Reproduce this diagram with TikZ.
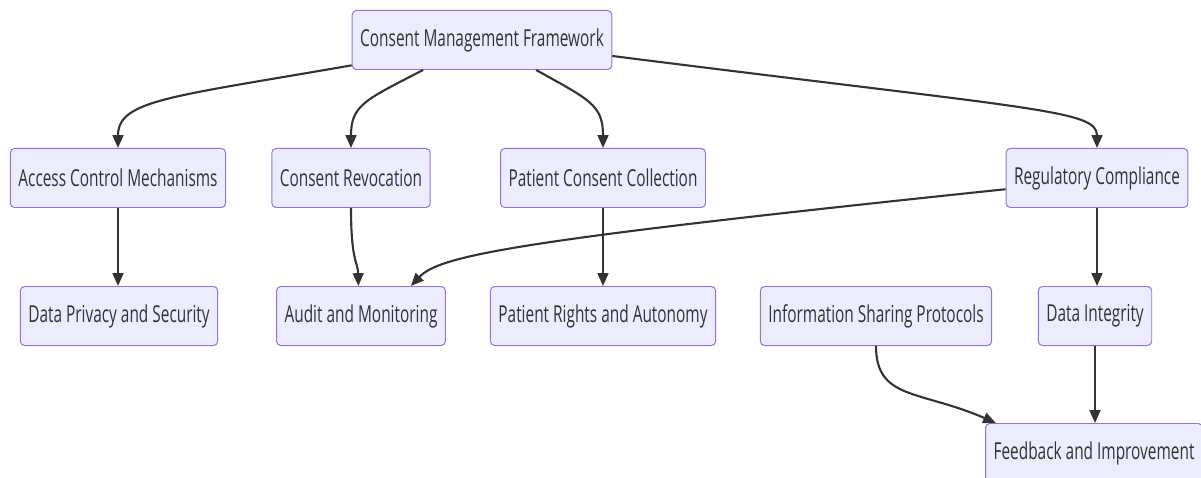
\documentclass[tikz,border=0pt]{standalone}
\usepackage{fontspec}
\setmainfont{Open Sans}[FakeStretch=0.66]
\usepackage{xcolor}
\usepackage{tikz}
\usetikzlibrary{arrows.meta, calc, positioning}

\definecolor{boxfill}{HTML}{ECECFF}
\definecolor{boxline}{HTML}{9370DB}
\definecolor{edgecol}{HTML}{333333}

\begin{document}
\begin{tikzpicture}[x=0.025cm, y=-0.025cm,
    >={Triangle[length=0.32cm, width=0.27cm]},
    box/.style={draw=boxline, fill=boxfill, line width=0.7pt, rounded corners=3pt,
        minimum height=1.475cm, inner xsep=0.2cm, text=edgecol,
        font=\fontsize{16.6pt}{18pt}\selectfont},
    edge/.style={->, draw=edgecol, line width=1.5pt}]
    \useasboundingbox (0,0) rectangle (1201,478);

    % Khung chính ở trên cùng
    \node[box] (cmf) at (482,40) {Consent Management Framework};

    % Hàng thứ hai
    \node[box] (acm) at (118,178) {Access Control Mechanisms};
    \node[box] (rev) at (351,178) {Consent Revocation};
    \node[box] (pcc) at (603,178) {Patient Consent Collection};
    \node[box] (reg) at (1097,178) {Regulatory Compliance};

    % Hàng thứ ba
    \node[box] (dps) at (119,316) {Data Privacy and Security};
    \node[box] (aud) at (361,316) {Audit and Monitoring};
    \node[box] (pra) at (603,316) {Patient Rights and Autonomy};
    \node[box] (isp) at (876,316) {Information Sharing Protocols};
    \node[box] (din) at (1095,316) {Data Integrity};

    % Hàng cuối
    \node[box] (fbi) at (1094,453) {Feedback and Improvement};

    % Các cạnh từ khung chính
    \draw[edge] (cmf.191) .. controls (170,97) and (118,100) .. (acm.north);
    \draw[edge] (cmf.207) .. controls (365,100) and (351,105) .. (rev.north);
    \draw[edge] (cmf.331) .. controls (590,100) and (603,105) .. (pcc.north);
    \draw[edge] (cmf.353) .. controls (1040,110) and (1097,110) .. (reg.north);

    % Các cạnh hàng hai xuống hàng ba
    \draw[edge] (acm.south) -- (acm.south |- dps.north);
    \draw[edge] (rev.south) .. controls (351,262) and (358,262) .. (aud.95);
    \draw[edge] (pcc.south) -- (pcc.south |- pra.north);
    \draw[edge] (reg.187) .. controls (520,240) and (440,255) .. (aud.31);
    \draw[edge] (reg.south) -- (reg.south |- din.north);

    % Các cạnh xuống khung cuối
    \draw[edge] (isp.south) .. controls (876,400) and (920,390) .. (fbi.163);
    \draw[edge] (din.south) -- (din.south |- fbi.north);
\end{tikzpicture}
\end{document}
